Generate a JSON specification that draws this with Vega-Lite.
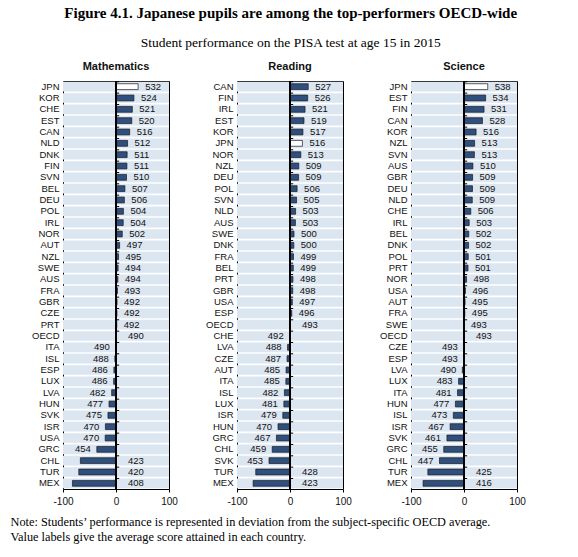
{
  "$schema": "https://vega.github.io/schema/vega-lite/v6.json",
  "background": "white",
  "padding": {"left": 5, "right": 5, "top": 6, "bottom": 5},
  "title": {
    "text": "Figure 4.1. Japanese pupils are among the top-performers OECD-wide",
    "subtitle": "Student performance on the PISA test at age 15 in 2015",
    "font": "Liberation Serif",
    "fontSize": 15,
    "fontWeight": "bold",
    "color": "#000",
    "subtitleFont": "Liberation Serif",
    "subtitleFontSize": 13.5,
    "subtitleColor": "#000",
    "subtitlePadding": 15,
    "anchor": "middle",
    "dx": 25,
    "offset": 11
  },
  "datasets": {
    "math": [
      {"country": "JPN", "score": 532, "dev": 41.8},
      {"country": "KOR", "score": 524, "dev": 33.8},
      {"country": "CHE", "score": 521, "dev": 30.8},
      {"country": "EST", "score": 520, "dev": 29.8},
      {"country": "CAN", "score": 516, "dev": 25.8},
      {"country": "NLD", "score": 512, "dev": 21.8},
      {"country": "DNK", "score": 511, "dev": 21.0},
      {"country": "FIN", "score": 511, "dev": 20.6},
      {"country": "SVN", "score": 510, "dev": 19.8},
      {"country": "BEL", "score": 507, "dev": 16.8},
      {"country": "DEU", "score": 506, "dev": 15.8},
      {"country": "POL", "score": 504, "dev": 14.0},
      {"country": "IRL", "score": 504, "dev": 13.6},
      {"country": "NOR", "score": 502, "dev": 11.8},
      {"country": "AUT", "score": 497, "dev": 6.8},
      {"country": "NZL", "score": 495, "dev": 4.8},
      {"country": "SWE", "score": 494, "dev": 4.0},
      {"country": "AUS", "score": 494, "dev": 3.6},
      {"country": "FRA", "score": 493, "dev": 2.8},
      {"country": "GBR", "score": 492, "dev": 2.0},
      {"country": "CZE", "score": 492, "dev": 1.8},
      {"country": "PRT", "score": 492, "dev": 1.5},
      {"country": "OECD", "score": 490, "dev": null},
      {"country": "ITA", "score": 490, "dev": -0.5},
      {"country": "ISL", "score": 488, "dev": -2.2},
      {"country": "ESP", "score": 486, "dev": -4.0},
      {"country": "LUX", "score": 486, "dev": -4.5},
      {"country": "LVA", "score": 482, "dev": -8.2},
      {"country": "HUN", "score": 477, "dev": -13.2},
      {"country": "SVK", "score": 475, "dev": -15.2},
      {"country": "ISR", "score": 470, "dev": -20.0},
      {"country": "USA", "score": 470, "dev": -20.4},
      {"country": "GRC", "score": 454, "dev": -36.2},
      {"country": "CHL", "score": 423, "dev": -67.2},
      {"country": "TUR", "score": 420, "dev": -70.2},
      {"country": "MEX", "score": 408, "dev": -82.2}
    ],
    "read": [
      {"country": "CAN", "score": 527, "dev": 34.4},
      {"country": "FIN", "score": 526, "dev": 33.4},
      {"country": "IRL", "score": 521, "dev": 28.4},
      {"country": "EST", "score": 519, "dev": 26.4},
      {"country": "KOR", "score": 517, "dev": 24.4},
      {"country": "JPN", "score": 516, "dev": 23.4},
      {"country": "NOR", "score": 513, "dev": 20.4},
      {"country": "NZL", "score": 509, "dev": 16.6},
      {"country": "DEU", "score": 509, "dev": 16.2},
      {"country": "POL", "score": 506, "dev": 13.4},
      {"country": "SVN", "score": 505, "dev": 12.4},
      {"country": "NLD", "score": 503, "dev": 10.6},
      {"country": "AUS", "score": 503, "dev": 10.2},
      {"country": "SWE", "score": 500, "dev": 7.6},
      {"country": "DNK", "score": 500, "dev": 7.2},
      {"country": "FRA", "score": 499, "dev": 6.6},
      {"country": "BEL", "score": 499, "dev": 6.2},
      {"country": "PRT", "score": 498, "dev": 5.6},
      {"country": "GBR", "score": 498, "dev": 5.2},
      {"country": "USA", "score": 497, "dev": 4.4},
      {"country": "ESP", "score": 496, "dev": 3.4},
      {"country": "OECD", "score": 493, "dev": null},
      {"country": "CHE", "score": 492, "dev": -0.6},
      {"country": "LVA", "score": 488, "dev": -4.6},
      {"country": "CZE", "score": 487, "dev": -5.6},
      {"country": "AUT", "score": 485, "dev": -7.4},
      {"country": "ITA", "score": 485, "dev": -7.8},
      {"country": "ISL", "score": 482, "dev": -10.6},
      {"country": "LUX", "score": 481, "dev": -11.6},
      {"country": "ISR", "score": 479, "dev": -13.6},
      {"country": "HUN", "score": 470, "dev": -22.6},
      {"country": "GRC", "score": 467, "dev": -25.6},
      {"country": "CHL", "score": 459, "dev": -33.6},
      {"country": "SVK", "score": 453, "dev": -39.6},
      {"country": "TUR", "score": 428, "dev": -64.6},
      {"country": "MEX", "score": 423, "dev": -69.6}
    ],
    "sci": [
      {"country": "JPN", "score": 538, "dev": 44.8},
      {"country": "EST", "score": 534, "dev": 40.8},
      {"country": "FIN", "score": 531, "dev": 37.8},
      {"country": "CAN", "score": 528, "dev": 34.8},
      {"country": "KOR", "score": 516, "dev": 22.8},
      {"country": "NZL", "score": 513, "dev": 20.0},
      {"country": "SVN", "score": 513, "dev": 19.6},
      {"country": "AUS", "score": 510, "dev": 16.8},
      {"country": "GBR", "score": 509, "dev": 16.2},
      {"country": "DEU", "score": 509, "dev": 16.0},
      {"country": "NLD", "score": 509, "dev": 15.6},
      {"country": "CHE", "score": 506, "dev": 12.8},
      {"country": "IRL", "score": 503, "dev": 9.8},
      {"country": "BEL", "score": 502, "dev": 9.0},
      {"country": "DNK", "score": 502, "dev": 8.6},
      {"country": "POL", "score": 501, "dev": 8.0},
      {"country": "PRT", "score": 501, "dev": 7.6},
      {"country": "NOR", "score": 498, "dev": 4.8},
      {"country": "USA", "score": 496, "dev": 2.8},
      {"country": "AUT", "score": 495, "dev": 2.0},
      {"country": "FRA", "score": 495, "dev": 1.6},
      {"country": "SWE", "score": 493, "dev": 0.1},
      {"country": "OECD", "score": 493, "dev": null},
      {"country": "CZE", "score": 493, "dev": -0.2},
      {"country": "ESP", "score": 493, "dev": -0.4},
      {"country": "LVA", "score": 490, "dev": -3.2},
      {"country": "LUX", "score": 483, "dev": -10.2},
      {"country": "ITA", "score": 481, "dev": -12.2},
      {"country": "HUN", "score": 477, "dev": -16.2},
      {"country": "ISL", "score": 473, "dev": -20.2},
      {"country": "ISR", "score": 467, "dev": -26.2},
      {"country": "SVK", "score": 461, "dev": -32.2},
      {"country": "GRC", "score": 455, "dev": -38.2},
      {"country": "CHL", "score": 447, "dev": -46.2},
      {"country": "TUR", "score": 425, "dev": -68.2},
      {"country": "MEX", "score": 416, "dev": -77.2}
    ]
  },
  "vconcat": [
    {
      "title": {
        "text": ["Note: Students’ performance is represented in deviation from the subject-specific OECD average.", "Value labels give the average score attained in each country."],
        "orient": "bottom",
        "anchor": "start",
        "font": "Liberation Serif",
        "fontSize": 12.3,
        "fontWeight": "normal",
        "color": "#000",
        "lineHeight": 15,
        "dx": 5,
        "offset": 9
      },
      "spacing": 27,
      "hconcat": [
        {
          "width": 106, "height": 408,
          "title": {"text": "Mathematics"},
          "data": {"name": "math"},
          "layer": [
            {"mark": {"type": "rect", "fill": "#dce6f1"},
             "encoding": {
               "y": {"field": "country", "type": "nominal", "sort": null, "scale": {"paddingInner": 0.14, "paddingOuter": 0.07}, "axis": {"title": null, "minExtent": 57}},
               "x": {"datum": -100, "type": "quantitative", "scale": {"domain": [-100, 100]}, "axis": {"title": null, "values": [-100, -50, 0, 50, 100]}},
               "x2": {"datum": 100}}},
            {"mark": {"type": "bar", "height": {"band": 0.6}, "stroke": "#1a1a1a", "strokeWidth": 0.7},
             "encoding": {
               "y": {"field": "country", "type": "nominal", "sort": null},
               "x": {"field": "dev", "type": "quantitative"},
               "color": {"condition": {"test": "datum.country === 'JPN'", "value": "#ffffff"}, "value": "#2f4f7f"}}},
            {"mark": {"type": "rule", "color": "#000", "strokeWidth": 1.5},
             "encoding": {"x": {"datum": 0, "type": "quantitative"}}},
            {"mark": {"type": "rule", "color": "#000", "strokeWidth": 1},
             "encoding": {
               "y": {"field": "country", "type": "nominal", "sort": null, "bandPosition": 0},
               "x": {"datum": 0, "type": "quantitative"}, "x2": {"datum": 6}}},
            {"transform": [{"filter": "datum.dev !== null && datum.dev >= 0"}],
             "mark": {"type": "text", "align": "left", "dx": 7},
             "encoding": {
               "y": {"field": "country", "type": "nominal", "sort": null},
               "x": {"field": "dev", "type": "quantitative"},
               "text": {"field": "score", "type": "quantitative"}}},
            {"transform": [{"filter": "datum.dev !== null && datum.dev < 0 && datum.dev >= -60"}],
             "mark": {"type": "text", "align": "right", "dx": -6},
             "encoding": {
               "y": {"field": "country", "type": "nominal", "sort": null},
               "x": {"field": "dev", "type": "quantitative"},
               "text": {"field": "score", "type": "quantitative"}}},
            {"transform": [{"filter": "datum.dev === null || datum.dev < -60"}],
             "mark": {"type": "text", "align": "left", "dx": 12},
             "encoding": {
               "y": {"field": "country", "type": "nominal", "sort": null},
               "x": {"datum": 0, "type": "quantitative"},
               "text": {"field": "score", "type": "quantitative"}}}
          ]
        },
        {
          "width": 106, "height": 408,
          "title": {"text": "Reading"},
          "data": {"name": "read"},
          "layer": [
            {"mark": {"type": "rect", "fill": "#dce6f1"},
             "encoding": {
               "y": {"field": "country", "type": "nominal", "sort": null, "scale": {"paddingInner": 0.14, "paddingOuter": 0.07}, "axis": {"title": null}},
               "x": {"datum": -100, "type": "quantitative", "scale": {"domain": [-100, 100]}, "axis": {"title": null, "values": [-100, -50, 0, 50, 100]}},
               "x2": {"datum": 100}}},
            {"mark": {"type": "bar", "height": {"band": 0.6}, "stroke": "#1a1a1a", "strokeWidth": 0.7},
             "encoding": {
               "y": {"field": "country", "type": "nominal", "sort": null},
               "x": {"field": "dev", "type": "quantitative"},
               "color": {"condition": {"test": "datum.country === 'JPN'", "value": "#ffffff"}, "value": "#2f4f7f"}}},
            {"mark": {"type": "rule", "color": "#000", "strokeWidth": 1.5},
             "encoding": {"x": {"datum": 0, "type": "quantitative"}}},
            {"mark": {"type": "rule", "color": "#000", "strokeWidth": 1},
             "encoding": {
               "y": {"field": "country", "type": "nominal", "sort": null, "bandPosition": 0},
               "x": {"datum": 0, "type": "quantitative"}, "x2": {"datum": 6}}},
            {"transform": [{"filter": "datum.dev !== null && datum.dev >= 0"}],
             "mark": {"type": "text", "align": "left", "dx": 7},
             "encoding": {
               "y": {"field": "country", "type": "nominal", "sort": null},
               "x": {"field": "dev", "type": "quantitative"},
               "text": {"field": "score", "type": "quantitative"}}},
            {"transform": [{"filter": "datum.dev !== null && datum.dev < 0 && datum.dev >= -60"}],
             "mark": {"type": "text", "align": "right", "dx": -6},
             "encoding": {
               "y": {"field": "country", "type": "nominal", "sort": null},
               "x": {"field": "dev", "type": "quantitative"},
               "text": {"field": "score", "type": "quantitative"}}},
            {"transform": [{"filter": "datum.dev === null || datum.dev < -60"}],
             "mark": {"type": "text", "align": "left", "dx": 12},
             "encoding": {
               "y": {"field": "country", "type": "nominal", "sort": null},
               "x": {"datum": 0, "type": "quantitative"},
               "text": {"field": "score", "type": "quantitative"}}}
          ]
        },
        {
          "width": 106, "height": 408,
          "title": {"text": "Science"},
          "data": {"name": "sci"},
          "layer": [
            {"mark": {"type": "rect", "fill": "#dce6f1"},
             "encoding": {
               "y": {"field": "country", "type": "nominal", "sort": null, "scale": {"paddingInner": 0.14, "paddingOuter": 0.07}, "axis": {"title": null}},
               "x": {"datum": -100, "type": "quantitative", "scale": {"domain": [-100, 100]}, "axis": {"title": null, "values": [-100, -50, 0, 50, 100]}},
               "x2": {"datum": 100}}},
            {"mark": {"type": "bar", "height": {"band": 0.6}, "stroke": "#1a1a1a", "strokeWidth": 0.7},
             "encoding": {
               "y": {"field": "country", "type": "nominal", "sort": null},
               "x": {"field": "dev", "type": "quantitative"},
               "color": {"condition": {"test": "datum.country === 'JPN'", "value": "#ffffff"}, "value": "#2f4f7f"}}},
            {"mark": {"type": "rule", "color": "#000", "strokeWidth": 1.5},
             "encoding": {"x": {"datum": 0, "type": "quantitative"}}},
            {"mark": {"type": "rule", "color": "#000", "strokeWidth": 1},
             "encoding": {
               "y": {"field": "country", "type": "nominal", "sort": null, "bandPosition": 0},
               "x": {"datum": 0, "type": "quantitative"}, "x2": {"datum": 6}}},
            {"transform": [{"filter": "datum.dev !== null && datum.dev >= 0"}],
             "mark": {"type": "text", "align": "left", "dx": 7},
             "encoding": {
               "y": {"field": "country", "type": "nominal", "sort": null},
               "x": {"field": "dev", "type": "quantitative"},
               "text": {"field": "score", "type": "quantitative"}}},
            {"transform": [{"filter": "datum.dev !== null && datum.dev < 0 && datum.dev >= -60"}],
             "mark": {"type": "text", "align": "right", "dx": -6},
             "encoding": {
               "y": {"field": "country", "type": "nominal", "sort": null},
               "x": {"field": "dev", "type": "quantitative"},
               "text": {"field": "score", "type": "quantitative"}}},
            {"transform": [{"filter": "datum.dev === null || datum.dev < -60"}],
             "mark": {"type": "text", "align": "left", "dx": 12},
             "encoding": {
               "y": {"field": "country", "type": "nominal", "sort": null},
               "x": {"datum": 0, "type": "quantitative"},
               "text": {"field": "score", "type": "quantitative"}}}
          ]
        }
      ]
    }
  ],
  "config": {
    "view": {"stroke": "#000", "strokeWidth": 1},
    "axis": {"labelFont": "Liberation Sans", "labelFontSize": 9.5, "labelColor": "#111", "grid": false},
    "axisX": {"domain": false, "tickColor": "#000", "tickSize": 3, "labelPadding": 4, "labelFontSize": 10, "labelFlush": false, "labelExpr": "replace(datum.label, '−', '-')"},
    "axisY": {"domain": false, "ticks": false, "labelPadding": 4},
    "title": {"font": "Liberation Sans", "fontSize": 11, "fontWeight": "bold", "color": "#111", "offset": 8},
    "text": {"font": "Liberation Sans", "fontSize": 9.5, "color": "#111", "baseline": "middle"}
  }
}
